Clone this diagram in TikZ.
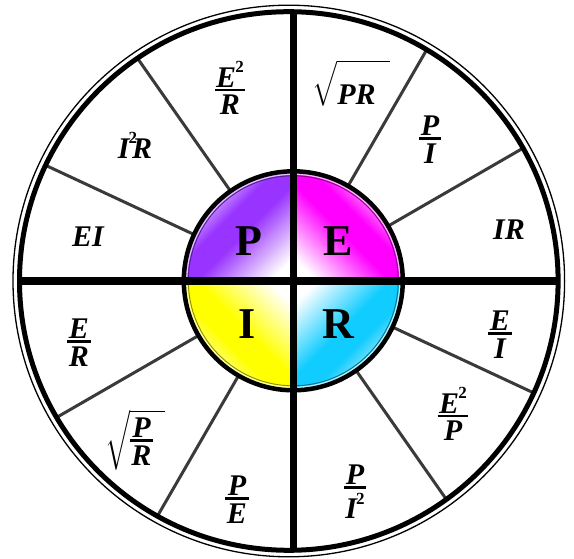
\documentclass[tikz,border=0pt]{standalone}
\usepackage{exscale}
\usepackage{fontspec}
\setmainfont{Liberation Serif}
\usetikzlibrary{calc}

\definecolor{violetP}{HTML}{9933FF}
\definecolor{magentaE}{HTML}{FF00FF}
\definecolor{yellowI}{HTML}{FFFF00}
\definecolor{cyanR}{HTML}{11CCFF}
\definecolor{spokegray}{HTML}{3A3A3A}

% white at the centre, a strong band, lighter at the rim
\pgfdeclareverticalshading[qc]{quadshade}{100bp}{color(0bp)=(white); color(22bp)=(white); color(46bp)=(qc); color(56bp)=(qc); color(66bp)=(qc!50!white); color(100bp)=(qc!50!white)}

\newcommand\wfrac[2]{\vbox{\halign{\hfil\kern1.5pt##\kern1.5pt\hfil\cr#1\cr\noalign{\kern1.5pt\hrule height2.6pt\kern4pt}#2\cr}}}
\newcommand\pwr{\kern-1pt\raisebox{15pt}{\fontsize{17}{17}\selectfont\upshape 2}}
\newcommand\wroot[1]{{\boldmath$\sqrt{\hbox{#1}}$}}

\begin{document}
\begin{tikzpicture}[x=1pt,y=1pt,
    formula/.style={font=\fontsize{30}{30}\selectfont\bfseries\itshape,inner sep=0pt},
    letter/.style={font=\fontsize{44}{44}\selectfont\bfseries,inner sep=0pt},
    spoke/.style={spokegray,line width=3pt},
    divider/.style={line width=7.5pt}]

\fill[white] (0,0) rectangle (574,558);
\useasboundingbox (0,0) rectangle (574,558);
\coordinate (O) at (288.8,277);
\coordinate (C) at (293.3,277.2);

% spokes, cut at the outer ring
\begin{scope}
\clip (O) circle[radius=269.3];
\foreach \a in {30,60,125,155,210,240,305,335}
  \draw[spoke] (C) ++(\a:108) -- ++(\a:220);
\end{scope}

% the four quadrants
\colorlet{qc}{violetP}
\shade[shading=quadshade,shading angle=45] (C) -- ++(-109.5,0) arc[start angle=180,end angle=90,radius=109.5] -- cycle;
\colorlet{qc}{magentaE}
\shade[shading=quadshade,shading angle=-45] (C) -- ++(0,109.5) arc[start angle=90,end angle=0,radius=109.5] -- cycle;
\colorlet{qc}{yellowI}
\shade[shading=quadshade,shading angle=135] (C) -- ++(0,-109.5) arc[start angle=270,end angle=180,radius=109.5] -- cycle;
\colorlet{qc}{cyanR}
\shade[shading=quadshade,shading angle=-135] (C) -- ++(109.5,0) arc[start angle=0,end angle=-90,radius=109.5] -- cycle;
\foreach \a/\col in {90/violetP,0/magentaE,180/yellowI,270/cyanR}{
  \draw[\col!30!white,line width=1.8pt] (C) ++(\a:106.8) arc[start angle=\a,delta angle=90,radius=106.8];
  \draw[\col!55!black,line width=0.9pt] (C) ++(\a:105) arc[start angle=\a,delta angle=90,radius=105];
}
\draw[line width=4.5pt] (C) circle[radius=109.5];

% cross
\coordinate (top) at (293.3,7.7);
\coordinate (bot) at (293.3,546.3);
\coordinate (lft) at (19.5,277.2);
\coordinate (rgt) at (558.1,277.2);
\draw[divider] (top) -- (bot);
\draw[divider] (lft) -- (rgt);

% outer ring
\draw[line width=5pt] (O) circle[radius=269.3];
\draw[line width=1.3pt] (O) circle[radius=275.8];

\node[letter] (P) at (249,316.5) {P};
\node[letter] (E) at (338.5,316.5) {E};
\node[letter] (I) at (247,233.5) {I};
\node[letter] (R) at (338.5,233.5) {R};

% power
\node[formula] (pEEoverR) at (230,470) {\wfrac{E\pwr}{R}};
\node[formula] (pIIR) at (135,413) {I\pwr\kern-5pt R};
\node[formula] (pEI) at (88,321) {EI};
% voltage
\node[formula] (eSqrtPR) at (351,475) {\wroot{\vrule width0pt height40pt depth0pt PR\kern14pt}};
\node[formula] (ePoverI) at (430,418) {\wfrac{P}{I}};
\node[formula] (eIR) at (509,328) {IR};
% resistance
\node[formula] (rEoverI) at (500,223) {\wfrac{E}{I}};
\node[formula] (rEEoverP) at (453,144) {\wfrac{E\pwr}{P}};
\node[formula] (rPoverII) at (355,66) {\wfrac{P}{I\pwr}};
% current
\node[formula] (iPoverE) at (237,58) {\wfrac{P}{E}};
\node[formula] (iSqrtPR) at (135,118) {\wroot{\wfrac{P}{R}\kern12pt}};
\node[formula] (iEoverR) at (79,215) {\wfrac{E}{R}};

\end{tikzpicture}
\end{document}
